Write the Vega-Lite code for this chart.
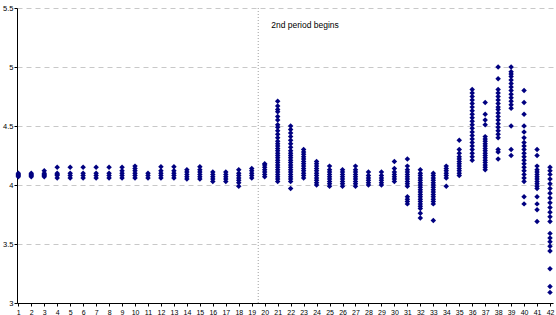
{
  "$schema": "https://vega.github.io/schema/vega-lite/v6.json",
  "width": 536,
  "height": 295,
  "autosize": {"type": "none"},
  "padding": {"left": 17, "top": 8, "right": 3, "bottom": 12},
  "background": "white",
  "config": {
    "view": {"stroke": null},
    "font": "Liberation Sans",
    "axis": {"labelOverlap": false}
  },
  "datasets": {
    "pts": [
      {"x":1,"y":4.07},{"x":1,"y":4.08},{"x":1,"y":4.09},{"x":1,"y":4.10},
      {"x":2,"y":4.07},{"x":2,"y":4.08},{"x":2,"y":4.09},{"x":2,"y":4.10},
      {"x":3,"y":4.07},{"x":3,"y":4.08},{"x":3,"y":4.09},{"x":3,"y":4.10},{"x":3,"y":4.12},
      {"x":4,"y":4.06},{"x":4,"y":4.08},{"x":4,"y":4.09},{"x":4,"y":4.10},{"x":4,"y":4.15},
      {"x":5,"y":4.06},{"x":5,"y":4.08},{"x":5,"y":4.10},{"x":5,"y":4.15},
      {"x":6,"y":4.06},{"x":6,"y":4.08},{"x":6,"y":4.10},{"x":6,"y":4.15},
      {"x":7,"y":4.06},{"x":7,"y":4.08},{"x":7,"y":4.10},{"x":7,"y":4.15},
      {"x":8,"y":4.06},{"x":8,"y":4.08},{"x":8,"y":4.10},{"x":8,"y":4.15},
      {"x":9,"y":4.06},{"x":9,"y":4.08},{"x":9,"y":4.10},{"x":9,"y":4.12},{"x":9,"y":4.15},
      {"x":10,"y":4.06},{"x":10,"y":4.08},{"x":10,"y":4.10},{"x":10,"y":4.12},{"x":10,"y":4.14},{"x":10,"y":4.16},
      {"x":11,"y":4.06},{"x":11,"y":4.08},{"x":11,"y":4.10},
      {"x":12,"y":4.06},{"x":12,"y":4.08},{"x":12,"y":4.10},{"x":12,"y":4.12},{"x":12,"y":4.155},
      {"x":13,"y":4.06},{"x":13,"y":4.08},{"x":13,"y":4.10},{"x":13,"y":4.12},{"x":13,"y":4.155},
      {"x":14,"y":4.05},{"x":14,"y":4.07},{"x":14,"y":4.09},{"x":14,"y":4.11},{"x":14,"y":4.13},
      {"x":15,"y":4.05},{"x":15,"y":4.07},{"x":15,"y":4.09},{"x":15,"y":4.11},{"x":15,"y":4.13},{"x":15,"y":4.155},
      {"x":16,"y":4.03},{"x":16,"y":4.05},{"x":16,"y":4.07},{"x":16,"y":4.09},{"x":16,"y":4.11},
      {"x":17,"y":4.03},{"x":17,"y":4.05},{"x":17,"y":4.07},{"x":17,"y":4.09},{"x":17,"y":4.11},
      {"x":18,"y":3.99},{"x":18,"y":4.02},{"x":18,"y":4.04},{"x":18,"y":4.06},{"x":18,"y":4.08},{"x":18,"y":4.10},{"x":18,"y":4.13},
      {"x":19,"y":4.06},{"x":19,"y":4.08},{"x":19,"y":4.10},{"x":19,"y":4.12},{"x":19,"y":4.14},
      {"x":20,"y":4.07},{"x":20,"y":4.09},{"x":20,"y":4.11},{"x":20,"y":4.13},{"x":20,"y":4.15},{"x":20,"y":4.17},{"x":20,"y":4.18},
      {"x":21,"y":4.03},{"x":21,"y":4.05},{"x":21,"y":4.07},{"x":21,"y":4.09},{"x":21,"y":4.11},{"x":21,"y":4.13},{"x":21,"y":4.15},{"x":21,"y":4.17},{"x":21,"y":4.19},{"x":21,"y":4.21},{"x":21,"y":4.23},{"x":21,"y":4.25},{"x":21,"y":4.27},{"x":21,"y":4.29},{"x":21,"y":4.31},{"x":21,"y":4.33},{"x":21,"y":4.35},{"x":21,"y":4.37},{"x":21,"y":4.40},{"x":21,"y":4.43},{"x":21,"y":4.46},{"x":21,"y":4.49},{"x":21,"y":4.51},{"x":21,"y":4.55},{"x":21,"y":4.58},{"x":21,"y":4.62},{"x":21,"y":4.64},{"x":21,"y":4.67},{"x":21,"y":4.71},
      {"x":22,"y":3.97},{"x":22,"y":4.03},{"x":22,"y":4.05},{"x":22,"y":4.07},{"x":22,"y":4.09},{"x":22,"y":4.11},{"x":22,"y":4.13},{"x":22,"y":4.15},{"x":22,"y":4.17},{"x":22,"y":4.19},{"x":22,"y":4.21},{"x":22,"y":4.23},{"x":22,"y":4.25},{"x":22,"y":4.27},{"x":22,"y":4.29},{"x":22,"y":4.32},{"x":22,"y":4.35},{"x":22,"y":4.38},{"x":22,"y":4.41},{"x":22,"y":4.44},{"x":22,"y":4.47},{"x":22,"y":4.50},
      {"x":23,"y":4.06},{"x":23,"y":4.08},{"x":23,"y":4.10},{"x":23,"y":4.12},{"x":23,"y":4.14},{"x":23,"y":4.16},{"x":23,"y":4.18},{"x":23,"y":4.20},{"x":23,"y":4.22},{"x":23,"y":4.24},{"x":23,"y":4.26},{"x":23,"y":4.28},{"x":23,"y":4.30},
      {"x":24,"y":4.00},{"x":24,"y":4.02},{"x":24,"y":4.04},{"x":24,"y":4.06},{"x":24,"y":4.08},{"x":24,"y":4.10},{"x":24,"y":4.12},{"x":24,"y":4.14},{"x":24,"y":4.16},{"x":24,"y":4.18},{"x":24,"y":4.20},
      {"x":25,"y":3.99},{"x":25,"y":4.01},{"x":25,"y":4.03},{"x":25,"y":4.05},{"x":25,"y":4.07},{"x":25,"y":4.09},{"x":25,"y":4.11},{"x":25,"y":4.13},{"x":25,"y":4.16},
      {"x":26,"y":3.99},{"x":26,"y":4.01},{"x":26,"y":4.03},{"x":26,"y":4.05},{"x":26,"y":4.07},{"x":26,"y":4.09},{"x":26,"y":4.11},{"x":26,"y":4.13},
      {"x":27,"y":3.99},{"x":27,"y":4.01},{"x":27,"y":4.03},{"x":27,"y":4.05},{"x":27,"y":4.07},{"x":27,"y":4.09},{"x":27,"y":4.11},{"x":27,"y":4.13},{"x":27,"y":4.16},
      {"x":28,"y":4.00},{"x":28,"y":4.02},{"x":28,"y":4.04},{"x":28,"y":4.06},{"x":28,"y":4.08},{"x":28,"y":4.11},
      {"x":29,"y":4.00},{"x":29,"y":4.02},{"x":29,"y":4.04},{"x":29,"y":4.06},{"x":29,"y":4.08},{"x":29,"y":4.11},
      {"x":30,"y":4.03},{"x":30,"y":4.05},{"x":30,"y":4.07},{"x":30,"y":4.09},{"x":30,"y":4.11},{"x":30,"y":4.14},{"x":30,"y":4.20},
      {"x":31,"y":3.84},{"x":31,"y":3.86},{"x":31,"y":3.88},{"x":31,"y":3.90},{"x":31,"y":3.99},{"x":31,"y":4.01},{"x":31,"y":4.03},{"x":31,"y":4.05},{"x":31,"y":4.07},{"x":31,"y":4.09},{"x":31,"y":4.11},{"x":31,"y":4.13},{"x":31,"y":4.16},{"x":31,"y":4.22},
      {"x":32,"y":3.72},{"x":32,"y":3.76},{"x":32,"y":3.80},{"x":32,"y":3.82},{"x":32,"y":3.84},{"x":32,"y":3.86},{"x":32,"y":3.88},{"x":32,"y":3.90},{"x":32,"y":3.92},{"x":32,"y":3.94},{"x":32,"y":3.96},{"x":32,"y":3.98},{"x":32,"y":4.00},{"x":32,"y":4.02},{"x":32,"y":4.04},{"x":32,"y":4.06},{"x":32,"y":4.08},{"x":32,"y":4.10},{"x":32,"y":4.13},
      {"x":33,"y":3.70},{"x":33,"y":3.84},{"x":33,"y":3.86},{"x":33,"y":3.88},{"x":33,"y":3.90},{"x":33,"y":3.92},{"x":33,"y":3.94},{"x":33,"y":3.96},{"x":33,"y":3.98},{"x":33,"y":4.00},{"x":33,"y":4.02},{"x":33,"y":4.04},{"x":33,"y":4.06},{"x":33,"y":4.08},{"x":33,"y":4.10},
      {"x":34,"y":3.99},{"x":34,"y":4.06},{"x":34,"y":4.08},{"x":34,"y":4.10},{"x":34,"y":4.12},{"x":34,"y":4.14},{"x":34,"y":4.16},
      {"x":35,"y":4.08},{"x":35,"y":4.10},{"x":35,"y":4.12},{"x":35,"y":4.14},{"x":35,"y":4.16},{"x":35,"y":4.18},{"x":35,"y":4.20},{"x":35,"y":4.22},{"x":35,"y":4.24},{"x":35,"y":4.27},{"x":35,"y":4.30},{"x":35,"y":4.38},
      {"x":36,"y":4.21},{"x":36,"y":4.24},{"x":36,"y":4.27},{"x":36,"y":4.30},{"x":36,"y":4.33},{"x":36,"y":4.36},{"x":36,"y":4.39},{"x":36,"y":4.42},{"x":36,"y":4.45},{"x":36,"y":4.48},{"x":36,"y":4.51},{"x":36,"y":4.54},{"x":36,"y":4.57},{"x":36,"y":4.60},{"x":36,"y":4.63},{"x":36,"y":4.66},{"x":36,"y":4.69},{"x":36,"y":4.72},{"x":36,"y":4.75},{"x":36,"y":4.78},{"x":36,"y":4.81},
      {"x":37,"y":4.13},{"x":37,"y":4.15},{"x":37,"y":4.17},{"x":37,"y":4.19},{"x":37,"y":4.21},{"x":37,"y":4.23},{"x":37,"y":4.25},{"x":37,"y":4.27},{"x":37,"y":4.29},{"x":37,"y":4.31},{"x":37,"y":4.33},{"x":37,"y":4.35},{"x":37,"y":4.37},{"x":37,"y":4.39},{"x":37,"y":4.41},{"x":37,"y":4.51},{"x":37,"y":4.55},{"x":37,"y":4.60},{"x":37,"y":4.70},
      {"x":38,"y":4.22},{"x":38,"y":4.28},{"x":38,"y":4.30},{"x":38,"y":4.40},{"x":38,"y":4.43},{"x":38,"y":4.46},{"x":38,"y":4.49},{"x":38,"y":4.52},{"x":38,"y":4.55},{"x":38,"y":4.58},{"x":38,"y":4.61},{"x":38,"y":4.64},{"x":38,"y":4.66},{"x":38,"y":4.69},{"x":38,"y":4.72},{"x":38,"y":4.75},{"x":38,"y":4.78},{"x":38,"y":4.81},{"x":38,"y":4.90},{"x":38,"y":5.00},
      {"x":39,"y":4.25},{"x":39,"y":4.30},{"x":39,"y":4.50},{"x":39,"y":4.65},{"x":39,"y":4.68},{"x":39,"y":4.71},{"x":39,"y":4.74},{"x":39,"y":4.77},{"x":39,"y":4.80},{"x":39,"y":4.83},{"x":39,"y":4.86},{"x":39,"y":4.89},{"x":39,"y":4.92},{"x":39,"y":4.94},{"x":39,"y":4.96},{"x":39,"y":5.00},
      {"x":40,"y":3.84},{"x":40,"y":3.90},{"x":40,"y":4.03},{"x":40,"y":4.06},{"x":40,"y":4.09},{"x":40,"y":4.12},{"x":40,"y":4.15},{"x":40,"y":4.18},{"x":40,"y":4.21},{"x":40,"y":4.24},{"x":40,"y":4.27},{"x":40,"y":4.30},{"x":40,"y":4.33},{"x":40,"y":4.36},{"x":40,"y":4.40},{"x":40,"y":4.45},{"x":40,"y":4.50},{"x":40,"y":4.60},{"x":40,"y":4.70},{"x":40,"y":4.80},
      {"x":41,"y":3.69},{"x":41,"y":3.79},{"x":41,"y":3.84},{"x":41,"y":3.90},{"x":41,"y":3.97},{"x":41,"y":3.99},{"x":41,"y":4.01},{"x":41,"y":4.03},{"x":41,"y":4.05},{"x":41,"y":4.07},{"x":41,"y":4.09},{"x":41,"y":4.11},{"x":41,"y":4.13},{"x":41,"y":4.16},{"x":41,"y":4.25},{"x":41,"y":4.30},
      {"x":42,"y":3.09},{"x":42,"y":3.14},{"x":42,"y":3.29},{"x":42,"y":3.44},{"x":42,"y":3.48},{"x":42,"y":3.52},{"x":42,"y":3.55},{"x":42,"y":3.59},{"x":42,"y":3.69},{"x":42,"y":3.73},{"x":42,"y":3.77},{"x":42,"y":3.81},{"x":42,"y":3.85},{"x":42,"y":3.89},{"x":42,"y":3.93},{"x":42,"y":3.97},{"x":42,"y":4.01},{"x":42,"y":4.05},{"x":42,"y":4.09},{"x":42,"y":4.12},{"x":42,"y":4.15}
    ],
    "marker": [{"x": 19.5, "tx": 20.5, "ty": 5.36, "label": "2nd period begins"}]
  },
  "layer": [
    {
      "data": {"name": "pts"},
      "mark": {"type": "point", "shape": "diamond", "filled": true, "size": 30, "color": "#000080", "opacity": 1},
      "encoding": {
        "x": {
          "field": "x", "type": "quantitative",
          "scale": {"domain": [0.9, 42.23], "nice": false, "zero": false},
          "axis": {
            "title": null,
            "values": [1,2,3,4,5,6,7,8,9,10,11,12,13,14,15,16,17,18,19,20,21,22,23,24,25,26,27,28,29,30,31,32,33,34,35,36,37,38,39,40,41,42],
            "tickCount": 60,
            "format": "d",
            "grid": false,
            "domainColor": "#000000",
            "tickColor": "#000000",
            "tickSize": 3,
            "labelFontSize": 7,
            "labelColor": "#000000",
            "labelPadding": 2,
            "labelOverlap": false,
            "labelFlush": false
          }
        },
        "y": {
          "field": "y", "type": "quantitative",
          "scale": {"domain": [3, 5.5], "nice": false, "zero": false},
          "axis": {
            "title": null,
            "values": [3, 3.5, 4, 4.5, 5, 5.5],
            "tickCount": 10,
            "format": "~g",
            "grid": true,
            "gridColor": "#c8c8c8",
            "gridDash": [5, 4],
            "gridWidth": 1,
            "domainColor": "#000000",
            "tickColor": "#000000",
            "tickSize": 3,
            "labelFontSize": 7.5,
            "labelColor": "#000000",
            "labelPadding": 1,
            "labelFlush": false
          }
        }
      }
    },
    {
      "data": {"name": "marker"},
      "mark": {"type": "rule", "color": "#a0a0a0", "strokeDash": [1, 2], "strokeWidth": 1},
      "encoding": {
        "x": {"field": "x", "type": "quantitative"}
      }
    },
    {
      "data": {"name": "marker"},
      "mark": {"type": "text", "align": "left", "baseline": "middle", "fontSize": 8.5, "color": "#000000", "font": "Liberation Sans"},
      "encoding": {
        "x": {"field": "tx", "type": "quantitative"},
        "y": {"field": "ty", "type": "quantitative"},
        "text": {"field": "label"}
      }
    }
  ]
}
